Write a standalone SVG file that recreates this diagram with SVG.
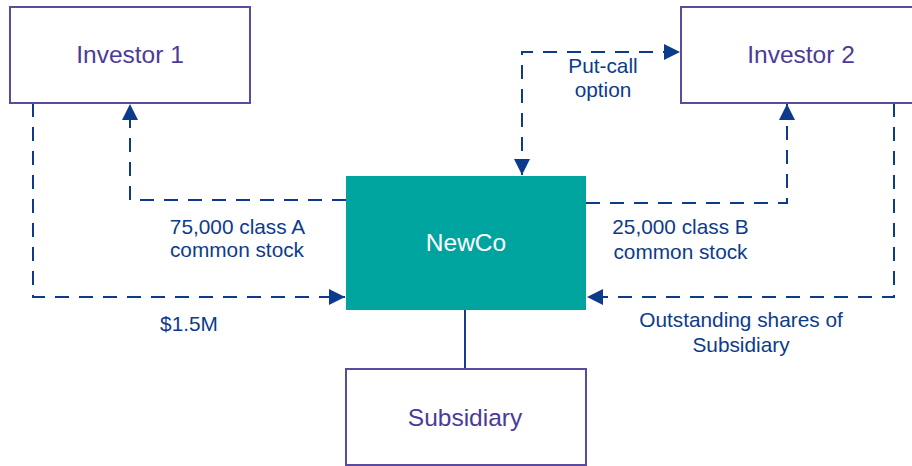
<svg xmlns="http://www.w3.org/2000/svg" width="912" height="466" viewBox="0 0 912 466">
<defs>
<style>
.box{fill:#fff;stroke:#5b4ba0;stroke-width:2}
.btxt{font-family:"Liberation Sans",Arial,sans-serif;font-size:24.5px;fill:#4b3b98;text-anchor:middle}
.lbl{font-family:"Liberation Sans",Arial,sans-serif;font-size:20.8px;fill:#0d3b8c;text-anchor:middle}
.dash{fill:none;stroke:#0d3b8c;stroke-width:2;stroke-dasharray:14 10}
</style>
<marker id="ah" viewBox="0 0 16 16" refX="16" refY="8" markerWidth="16" markerHeight="16" markerUnits="userSpaceOnUse" orient="auto-start-reverse">
<path d="M0,0 L16,8 L0,16 Z" fill="#0d3b8c"/>
</marker>
</defs>
<rect width="912" height="466" fill="#fff"/>
<g id="connectors">
<path class="dash" d="M33,103 V297 H345" marker-end="url(#ah)"/>
<path class="dash" d="M346,200 H130 V104" marker-end="url(#ah)"/>
<path class="dash" d="M522,175 V52 H680" marker-start="url(#ah)" marker-end="url(#ah)"/>
<path class="dash" d="M586,203 H787 V104" marker-end="url(#ah)"/>
<path class="dash" d="M894,103 V297 H587" marker-end="url(#ah)"/>
<line x1="465" y1="310" x2="465" y2="369" stroke="#1c3a8c" stroke-width="2"/>
<text class="lbl" x="189" y="331">$1.5M</text>
<text class="lbl" x="237.5" y="234">75,000 class A</text>
<text class="lbl" x="237" y="257">common stock</text>
<text class="lbl" x="603" y="73">Put-call</text>
<text class="lbl" x="603" y="97">option</text>
<text class="lbl" x="680.5" y="234">25,000 class B</text>
<text class="lbl" x="680.5" y="259">common stock</text>
<text class="lbl" x="741" y="327">Outstanding shares of</text>
<text class="lbl" x="741" y="352">Subsidiary</text>
</g>
<g id="investor1">
<rect class="box" x="10" y="7" width="240" height="96"/>
<text class="btxt" x="130" y="63">Investor 1</text>
</g>
<g id="investor2">
<rect class="box" x="681" y="7" width="240" height="96"/>
<text class="btxt" x="801" y="63">Investor 2</text>
</g>
<g id="newco">
<rect x="346" y="176" width="240" height="134" fill="#00a49f"/>
<text class="btxt" x="466" y="251" style="fill:#fff">NewCo</text>
</g>
<g id="subsidiary">
<rect class="box" x="346" y="369" width="240" height="96"/>
<text class="btxt" x="465" y="426">Subsidiary</text>
</g>
</svg>
